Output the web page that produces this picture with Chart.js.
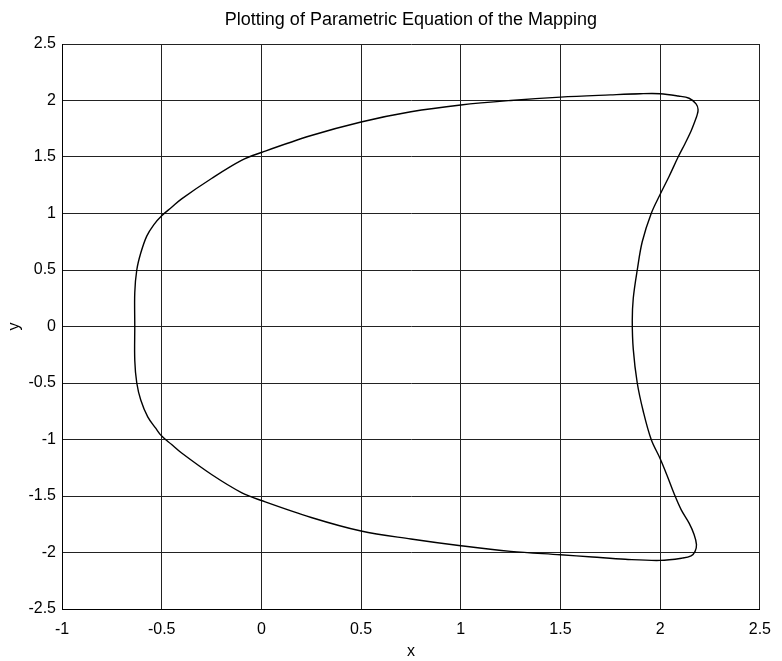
<!DOCTYPE html>
<html>
<head>
<meta charset="utf-8">
<script src="https://cdn.jsdelivr.net/npm/chart.js@4/dist/chart.umd.min.js"></script>
<style>
  body { margin: 0; background: #fff; }
</style>
</head>
<body>
<canvas id="chart" width="782" height="661"></canvas>
<script>
// closed curve, x and y in plot units
const curveX = [-0.635, -0.635, -0.625, -0.605, -0.575, -0.54, -0.5, -0.45, -0.4, -0.25, -0.1, 0, 0.25, 0.5, 0.75, 1.0, 1.25, 1.5, 1.75, 1.9, 2.0, 2.09, 2.145, 2.18, 2.19, 2.185, 2.175, 2.155, 2.125, 2.09, 2.045, 2.0, 1.955, 1.91, 1.885, 1.865, 1.86, 1.865, 1.885, 1.915, 1.955, 2.0, 2.035, 2.07, 2.105, 2.145, 2.17, 2.182, 2.175, 2.155, 2.11, 2.0, 1.825, 1.66, 1.5, 1.25, 1.0, 0.75, 0.5, 0.25, 0, -0.1, -0.25, -0.4, -0.45, -0.5, -0.53, -0.57, -0.605, -0.625, -0.635, -0.635];
const curveY = [0, 0.3, 0.5, 0.65, 0.8, 0.9, 0.98, 1.055, 1.13, 1.31, 1.47, 1.54, 1.69, 1.81, 1.9, 1.96, 2.0, 2.03, 2.05, 2.06, 2.06, 2.04, 2.02, 1.97, 1.92, 1.87, 1.82, 1.73, 1.62, 1.5, 1.33, 1.17, 1.0, 0.75, 0.5, 0.25, 0.05, -0.2, -0.5, -0.75, -1.0, -1.17, -1.32, -1.48, -1.62, -1.74, -1.84, -1.93, -1.99, -2.03, -2.05, -2.07, -2.06, -2.04, -2.02, -1.99, -1.94, -1.88, -1.81, -1.69, -1.54, -1.47, -1.31, -1.12, -1.045, -0.97, -0.9, -0.8, -0.65, -0.5, -0.3, 0];

const xTicks = [-1, -0.5, 0, 0.5, 1, 1.5, 2, 2.5];
const yTicks = [-2.5, -2, -1.5, -1, -0.5, 0, 0.5, 1, 1.5, 2, 2.5];

const points = curveX.map((x, i) => ({ x: x, y: curveY[i] }));
const font = { family: "Liberation Sans, Arial, sans-serif", size: 16 };

new Chart(document.getElementById("chart").getContext("2d"), {
  type: "scatter",
  data: {
    datasets: [
      {
        data: points,
        showLine: true,
        borderColor: "#000",
        borderWidth: 1.4,
        pointRadius: 0,
        tension: 0.35,
        fill: false,
      },
    ],
  },
  options: {
    responsive: false,
    animation: false,
    layout: { padding: { left: 0, right: 19, top: 0, bottom: 0 } },
    plugins: {
      legend: { display: false },
      tooltip: { enabled: false },
      title: {
        display: true,
        fullSize: false,
        text: "Plotting of Parametric Equation of the Mapping",
        color: "#000",
        font: { family: font.family, size: 18, weight: "normal" },
        padding: { top: 9, bottom: 13.4 },
      },
    },
    scales: {
      x: {
        type: "linear",
        min: -1,
        max: 2.5,
        afterBuildTicks: (s) => { s.ticks = xTicks.map((v) => ({ value: v })); },
        afterFit: (s) => { s.height = 52; },
        ticks: { color: "#000", font: font, padding: 11, autoSkip: false, maxRotation: 0, callback: (v) => String(v) },
        grid: { color: "#222", lineWidth: 1, drawTicks: false },
        border: { display: true, color: "#000", width: 1 },
        title: { display: true, text: "x", color: "#000", font: font, padding: { top: 0, bottom: 0 } },
      },
      y: {
        type: "linear",
        min: -2.5,
        max: 2.5,
        afterBuildTicks: (s) => { s.ticks = yTicks.map((v) => ({ value: v })); },
        afterFit: (s) => { s.width = 62; },
        ticks: { color: "#000", font: font, padding: 6, autoSkip: false, callback: (v) => String(v) },
        grid: { color: "#222", lineWidth: 1, drawTicks: false },
        border: { display: true, color: "#000", width: 1 },
        title: { display: true, text: "y", color: "#000", font: font, padding: { top: 5, bottom: 0 } },
      },
    },
  },
});
</script>
</body>
</html>
